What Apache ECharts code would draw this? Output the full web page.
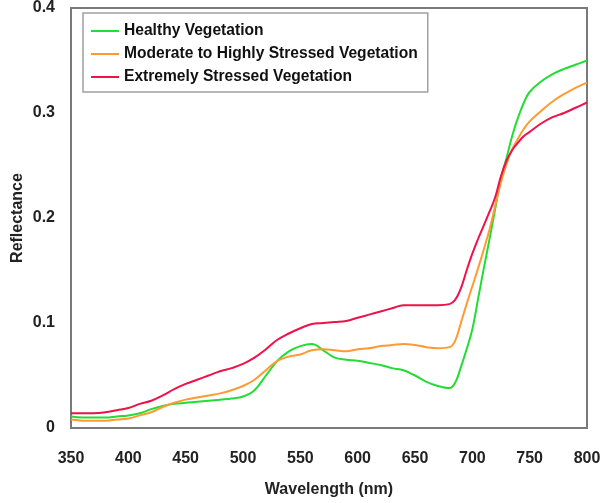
<!DOCTYPE html>
<html>
<head>
<meta charset="utf-8">
<script src="https://cdn.jsdelivr.net/npm/echarts@6/dist/echarts.min.js"></script>
<style>
  html, body { margin: 0; padding: 0; background: #fff; }
  #chart { width: 606px; height: 503px; }
</style>
</head>
<body>
<div id="chart"></div>
<script>
// Wavelength samples (nm)
const wavelengths = [350,360,370,380,390,400,410,420,430,440,450,460,470,480,490,500,510,520,530,540,550,560,570,580,590,600,610,620,630,640,650,660,670,680,685,690,695,700,705,710,715,720,725,730,735,740,745,750,760,770,780,790,800];

// Reflectance per vegetation condition
const healthy = [0.011,0.010,0.010,0.010,0.011,0.012,0.014,0.018,0.021,0.023,0.024,0.025,0.026,0.027,0.028,0.030,0.036,0.050,0.064,0.073,0.078,0.080,0.074,0.067,0.065,0.064,0.062,0.060,0.057,0.055,0.050,0.044,0.040,0.038,0.043,0.058,0.075,0.094,0.123,0.152,0.180,0.209,0.238,0.258,0.279,0.296,0.310,0.320,0.330,0.337,0.342,0.346,0.350];
const moderate = [0.008,0.007,0.007,0.007,0.008,0.009,0.012,0.015,0.020,0.024,0.027,0.029,0.031,0.033,0.036,0.040,0.046,0.055,0.064,0.068,0.070,0.074,0.075,0.074,0.073,0.075,0.076,0.078,0.079,0.080,0.079,0.077,0.076,0.077,0.083,0.100,0.118,0.135,0.152,0.170,0.189,0.212,0.234,0.252,0.266,0.276,0.285,0.292,0.302,0.311,0.318,0.324,0.329];
const extreme = [0.014,0.014,0.014,0.015,0.017,0.019,0.023,0.026,0.031,0.037,0.042,0.046,0.050,0.054,0.057,0.061,0.067,0.075,0.084,0.090,0.095,0.099,0.100,0.101,0.102,0.105,0.108,0.111,0.114,0.117,0.117,0.117,0.117,0.118,0.122,0.133,0.150,0.166,0.180,0.193,0.206,0.220,0.240,0.255,0.265,0.272,0.278,0.282,0.290,0.296,0.300,0.305,0.310];

const seriesNames = ['Healthy Vegetation', 'Moderate to Highly Stressed Vegetation', 'Extremely Stressed Vegetation'];
const seriesColors = ['#22dd33', '#ff9a33', '#f0104a'];
const seriesValues = [healthy, moderate, extreme];

const font = 'Liberation Sans, Arial, sans-serif';
const frame = '#7a7a7a';

const chart = echarts.init(document.getElementById('chart'), null, { renderer: 'canvas' });

chart.setOption({
  animation: false,
  backgroundColor: '#ffffff',
  grid: {
    left: 71, right: 19, top: 3, bottom: 75,
    show: true, borderColor: frame, borderWidth: 2, backgroundColor: 'transparent'
  },
  legend: {
    orient: 'vertical',
    left: 83, top: 13,
    padding: [9, 10, 6, 8],
    borderColor: '#a0a0a0', borderWidth: 1.5,
    backgroundColor: '#ffffff',
    icon: 'rect',
    itemWidth: 28, itemHeight: 2,
    itemGap: 5,
    textStyle: { fontFamily: font, fontWeight: 'bold', fontSize: 15.6, color: '#111', lineHeight: 18 },
    data: seriesNames
  },
  xAxis: {
    type: 'value', min: 350, max: 800, interval: 50,
    name: 'Wavelength (nm)', nameLocation: 'middle', nameGap: 54,
    nameMoveOverlap: false,
    nameTextStyle: { fontFamily: font, fontWeight: 'bold', fontSize: 16, color: '#222' },
    axisLine: { show: true, lineStyle: { color: frame, width: 2 } },
    axisTick: { show: false },
    splitLine: { show: false },
    axisLabel: { fontFamily: font, fontWeight: 'bold', fontSize: 16, color: '#222', margin: 23 }
  },
  yAxis: {
    type: 'value', min: 0, max: 0.4, interval: 0.1,
    name: 'Reflectance', nameLocation: 'middle', nameGap: 45,
    nameMoveOverlap: false,
    nameTextStyle: { fontFamily: font, fontWeight: 'bold', fontSize: 16, color: '#222' },
    axisLine: { show: true, lineStyle: { color: frame, width: 2 } },
    axisTick: { show: false },
    splitLine: { show: false },
    axisLabel: {
      fontFamily: font, fontWeight: 'bold', fontSize: 16, color: '#222', margin: 16,
      formatter: v => (v === 0 ? '0' : v.toFixed(1))
    }
  },
  series: seriesNames.map((name, i) => ({
    name,
    type: 'line',
    smooth: 0.4,
    symbol: 'none',
    color: seriesColors[i],
    lineStyle: { width: 2, color: seriesColors[i] },
    data: wavelengths.map((w, k) => [w, seriesValues[i][k]])
  }))
});
</script>
</body>
</html>
